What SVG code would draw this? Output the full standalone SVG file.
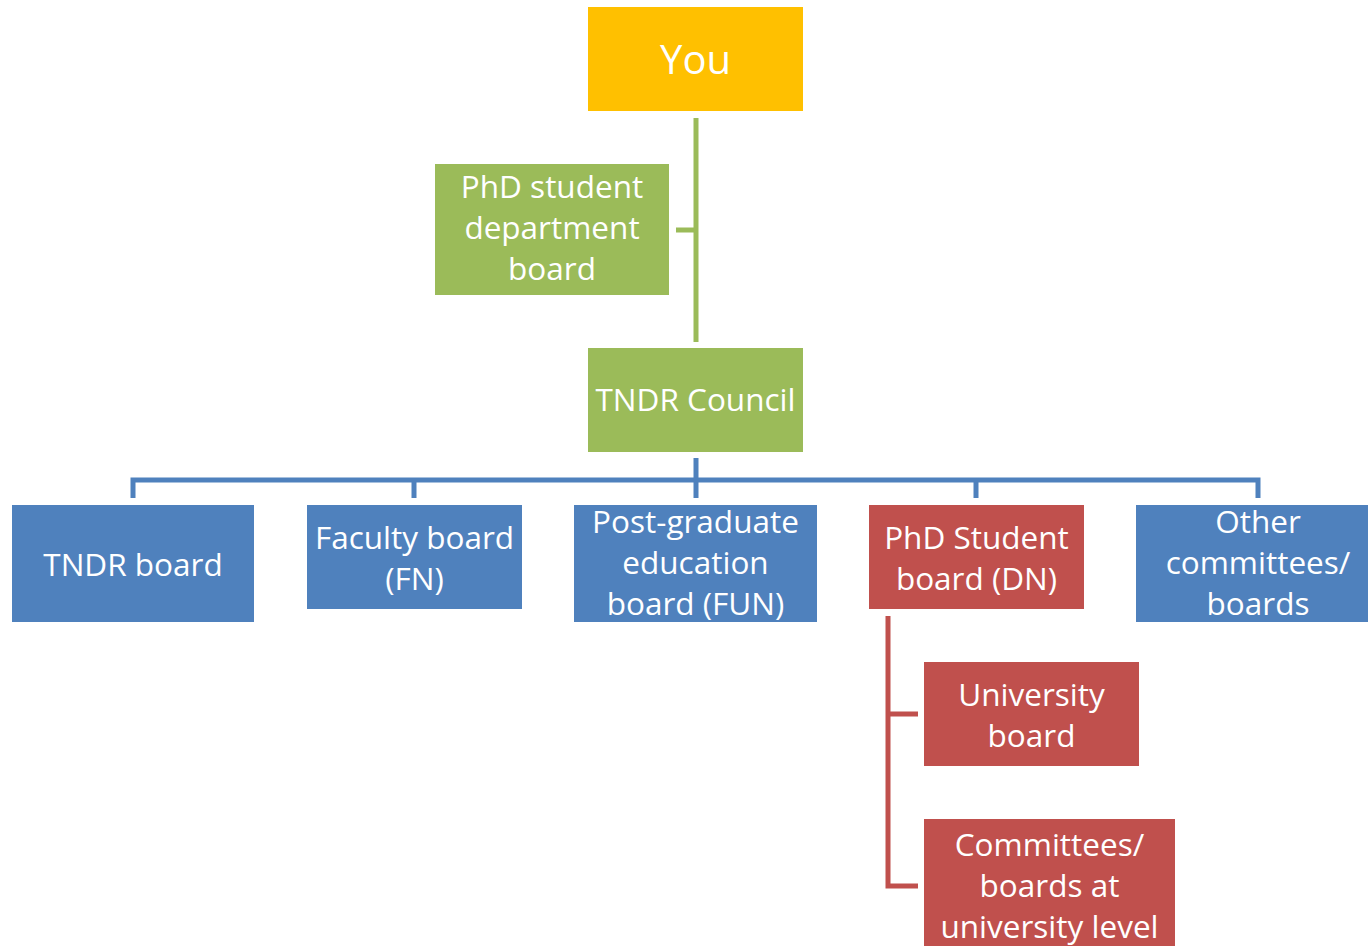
<svg xmlns="http://www.w3.org/2000/svg" width="1368" height="946" viewBox="0 0 1368 946">
<style>
.t{font-family:"Open Sans","Noto Sans","Liberation Sans",sans-serif;font-size:31.5px;fill:#fff;text-anchor:middle}
.yl{fill:#FFC000}.gr{fill:#9BBB59}.bl{fill:#4F81BD}.rd{fill:#C0504D}
.cg{stroke:#9BBB59;stroke-width:5;fill:none}
.cb{stroke:#4F81BD;stroke-width:5;fill:none}
.cr{stroke:#C0504D;stroke-width:5;fill:none}
</style>
<rect width="1368" height="946" fill="#fff"/>
<g id="connectors">
<path class="cg" d="M696 118V342M676 230H696"/>
<path class="cb" d="M696 458V480M133 498V480H1258V498M414 480V498M696 480V498M976 480V498"/>
<path class="cr" d="M888 616V886H918M888 714H918"/>
</g>
<g id="you"><rect class="yl" x="588" y="7" width="215" height="104"/><text class="t" x="695.5" y="74" style="font-size:40px">You</text></g>
<g id="phd-dept"><rect class="gr" x="435" y="164" width="234" height="131"/><text class="t" x="552" y="198">PhD student<tspan x="552" dy="41">department</tspan><tspan x="552" dy="41">board</tspan></text></g>
<g id="council"><rect class="gr" x="588" y="348" width="215" height="104"/><text class="t" x="695.5" y="411">TNDR Council</text></g>
<g id="tndr-board"><rect class="bl" x="12" y="505" width="242" height="117"/><text class="t" x="133" y="576">TNDR board</text></g>
<g id="faculty"><rect class="bl" x="307" y="505" width="215" height="104"/><text class="t" x="414.5" y="549">Faculty board<tspan x="414.5" dy="41">(FN)</tspan></text></g>
<g id="fun"><rect class="bl" x="574" y="505" width="243" height="117"/><text class="t" x="695.5" y="533">Post-graduate<tspan x="695.5" dy="41">education</tspan><tspan x="695.5" dy="41">board (FUN)</tspan></text></g>
<g id="dn"><rect class="rd" x="869" y="505" width="215" height="104"/><text class="t" x="976.5" y="549">PhD Student<tspan x="976.5" dy="41">board (DN)</tspan></text></g>
<g id="other"><rect class="bl" x="1136" y="505" width="244" height="117"/><text class="t" x="1258" y="533">Other<tspan x="1258" dy="41">committees/</tspan><tspan x="1258" dy="41">boards</tspan></text></g>
<g id="univ"><rect class="rd" x="924" y="662" width="215" height="104"/><text class="t" x="1031.5" y="706">University<tspan x="1031.5" dy="41">board</tspan></text></g>
<g id="univ-committees"><rect class="rd" x="924" y="819" width="251" height="140"/><text class="t" x="1049.5" y="856">Committees/<tspan x="1049.5" dy="41">boards at</tspan><tspan x="1049.5" dy="41">university level</tspan></text></g>
</svg>
